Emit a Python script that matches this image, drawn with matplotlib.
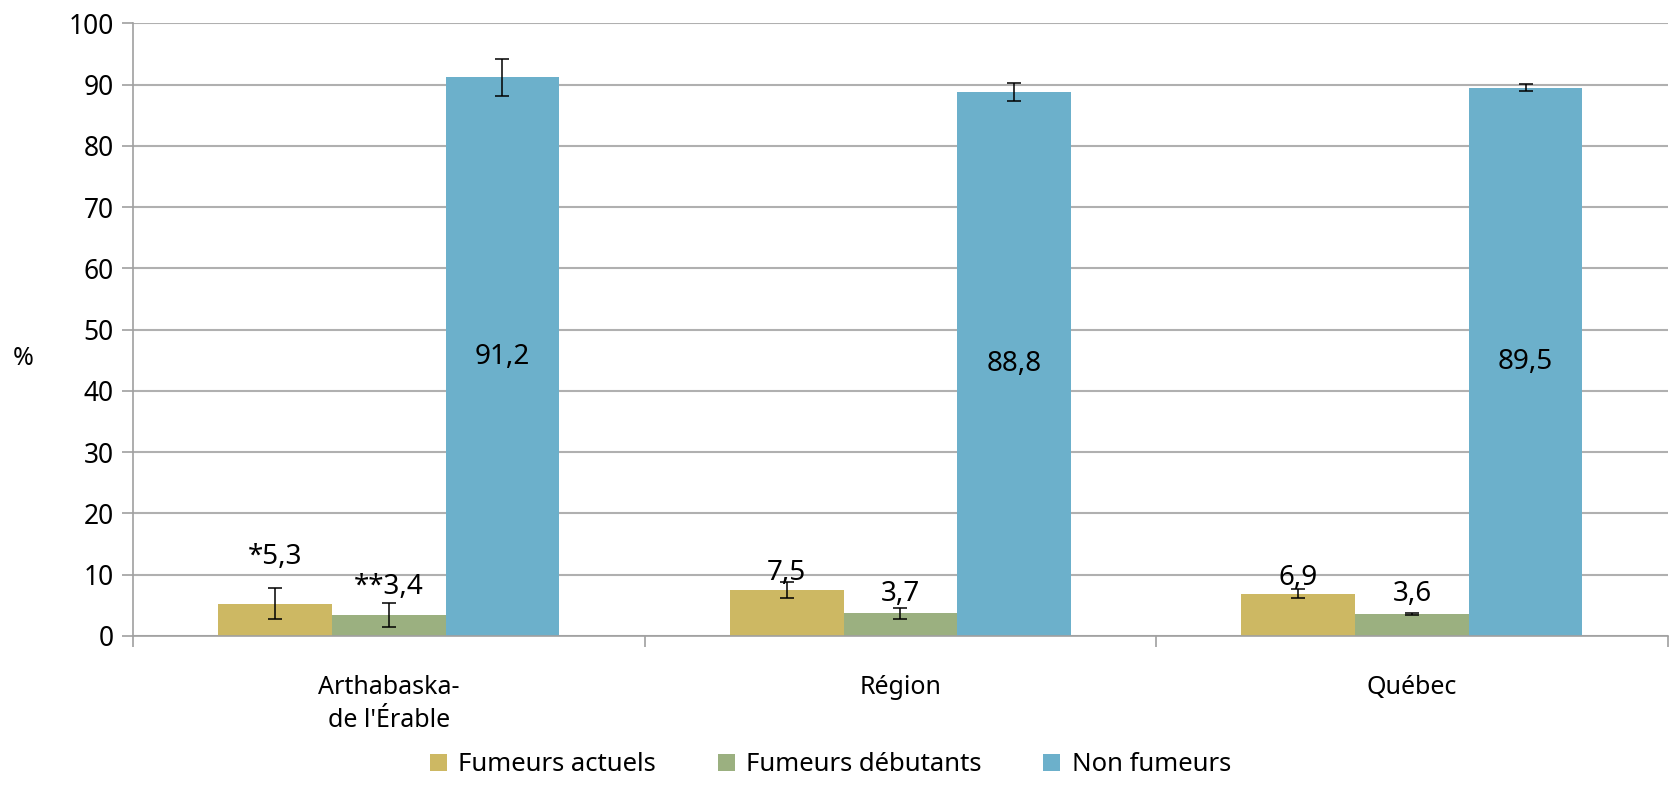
import matplotlib.pyplot as plt
import numpy as np

plt.rcParams['font.family'] = ['Noto Sans', 'DejaVu Sans']

# donnees
categories = ["Arthabaska-\nde l'Érable", "Région", "Québec"]
series = ["Fumeurs actuels", "Fumeurs débutants", "Non fumeurs"]
actuels = [5.3, 7.5, 6.9]
debutants = [3.4, 3.7, 3.6]
non_fumeurs = [91.2, 88.8, 89.5]
err_actuels = [2.5, 1.25, 0.7]
err_debutants = [2.0, 0.85, 0.2]
err_non = [3.0, 1.5, 0.6]
labels_actuels = ["*5,3", "7,5", "6,9"]
labels_debutants = ["**3,4", "3,7", "3,6"]
labels_non = ["91,2", "88,8", "89,5"]

colors = ['#CDB863', '#9BB080', '#6CB0CB']

fig = plt.figure(figsize=(16.71, 7.94), dpi=100)
ax = fig.add_axes([0.0796, 0.199, 0.9184, 0.7715])

x = np.arange(len(categories))
w = 0.2222
vals = [actuels, debutants, non_fumeurs]
errs = [err_actuels, err_debutants, err_non]

for i in range(3):
    pos = x + (i - 1) * w
    ax.bar(pos, vals[i], w, color=colors[i], label=series[i], zorder=2)
    ax.errorbar(pos, vals[i], yerr=errs[i], fmt='none', ecolor='black',
                elinewidth=1.1, capsize=5, capthick=1.1, zorder=3)

# etiquettes
offs_act = [7.6, 2.8, 2.6]
offs_deb = [4.6, 3.2, 3.2]
for j in range(3):
    ax.text(x[j] - w, actuels[j] + offs_act[j], labels_actuels[j],
            ha='center', va='center', fontsize=20, zorder=4)
    ax.text(x[j], debutants[j] + offs_deb[j], labels_debutants[j],
            ha='center', va='center', fontsize=20, zorder=4)
    ax.text(x[j] + w, non_fumeurs[j] / 2, labels_non[j],
            ha='center', va='center', fontsize=20, zorder=4)

ax.set_xlim(-0.5, 2.5)
ax.set_ylim(0, 100)
ax.set_yticks(range(0, 101, 10))
ax.set_xticks(x)
ax.set_xticklabels(categories, fontsize=18, linespacing=1.45)
ax.set_xticks([-0.5, 0.5, 1.5, 2.5], minor=True)
ax.tick_params(axis='x', which='major', length=0, pad=28)
ax.tick_params(axis='x', which='minor', length=8, color='#a0a0a0', width=1.2)
ax.tick_params(axis='y', labelsize=19, length=8, color='#a0a0a0', width=1.2, pad=6)

ax.yaxis.grid(True, color='#b0b0b0', linewidth=1.5, zorder=0)
ax.set_axisbelow(True)
for s in ['top', 'right']:
    ax.spines[s].set_visible(False)
ax.spines['left'].set_color('#a0a0a0')
ax.spines['bottom'].set_color('#a0a0a0')
ax.spines['left'].set_linewidth(1.2)
ax.spines['bottom'].set_linewidth(1.2)

fig.text(0.014, 0.548, '%', fontsize=18, ha='center', va='center')

fig.legend(loc='lower center', bbox_to_anchor=(0.497, -0.008), ncol=3, frameon=False,
           fontsize=18.5, handlelength=0.65, handleheight=0.65, columnspacing=2.4,
           handletextpad=0.45)

fig.savefig('out.png', dpi=100)
